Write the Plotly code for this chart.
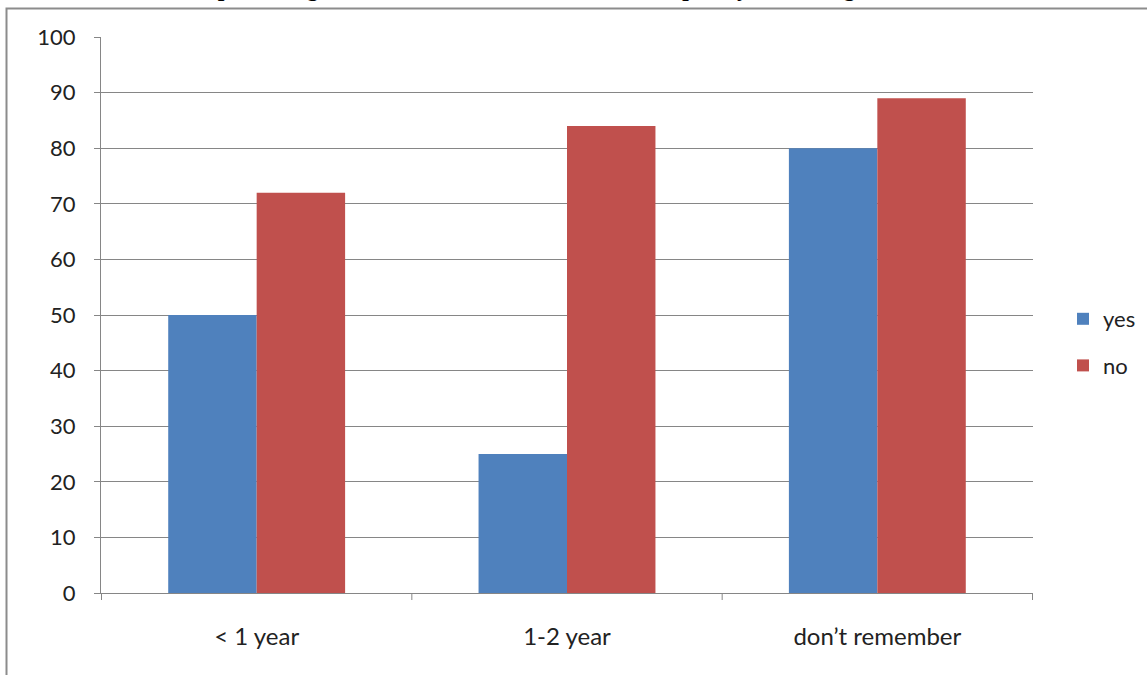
import plotly.graph_objects as go

categories = ["< 1 year", "1-2 year", "don\u2019t remember"]
yes_values = [50, 25, 80]
no_values = [72, 84, 89]
y_ticks = [0, 10, 20, 30, 40, 50, 60, 70, 80, 90, 100]
title_text = "Total numbers and percentage of screened children and their frequency of visiting to dentist."

W, H = 1147, 675
L, R, T, B = 101, 114, 37, 82
pw, ph = W - L - R, H - T - B

def px_x(p):
    return (p - L) / pw

def px_y(p):
    return (H - B - p) / ph

font_fam = "Lato, 'Open Sans', sans-serif"

fig = go.Figure()
fig.add_trace(go.Bar(name="yes", x=categories, y=yes_values, marker_color="#4F81BD",
                     marker_line_width=0, legendgroup="a"))
fig.add_trace(go.Bar(name="no", x=categories, y=no_values, marker_color="#C0504D",
                     marker_line_width=0, legendgroup="b"))

fig.update_layout(
    width=W, height=H,
    margin=dict(l=L, r=R, t=T, b=B, autoexpand=False),
    paper_bgcolor="white", plot_bgcolor="white",
    barmode="group", bargap=0.43, bargroupgap=0,
    font=dict(family=font_fam, size=20, color="#222222"),
    showlegend=True,
    legend=dict(x=px_x(1063), y=px_y(298), xanchor="left", yanchor="top",
                font=dict(size=22, color="#222222"), tracegroupgap=15,
                itemwidth=30, bgcolor="rgba(0,0,0,0)"),
    xaxis=dict(showline=True, linecolor="#868686", linewidth=1, ticks="",
               showgrid=False, tickfont=dict(size=24), ticklabelstandoff=22),
    yaxis=dict(range=[0, 100], tickvals=y_ticks, showline=True, linecolor="#868686",
               linewidth=1, ticks="outside", ticklen=6, tickcolor="#868686",
               showgrid=True, gridcolor="#868686", gridwidth=1, zeroline=False,
               tickfont=dict(size=22), ticklabelstandoff=14),
)

# category separator ticks on x axis
for i in range(len(categories) + 1):
    fig.add_shape(type="line", xref="x", yref="paper", x0=i - 0.5, x1=i - 0.5,
                  y0=0, y1=px_y(H - B + 7), line=dict(color="#868686", width=1))

# outer frame
fig.add_shape(type="rect", xref="paper", yref="paper",
              x0=px_x(6.5), x1=px_x(1160), y0=px_y(8.5), y1=px_y(690),
              line=dict(color="#8c8c8c", width=2), fillcolor="rgba(0,0,0,0)", layer="below")

# caption at top, clipped by the page edge as in the source
fig.add_annotation(text="<b>" + title_text + "</b>", xref="paper", yref="paper",
                   x=px_x(16), y=px_y(3), xanchor="left", yanchor="bottom",
                   showarrow=False, font=dict(family="Liberation Serif", size=24, color="black"))

fig.write_html("out.html")
